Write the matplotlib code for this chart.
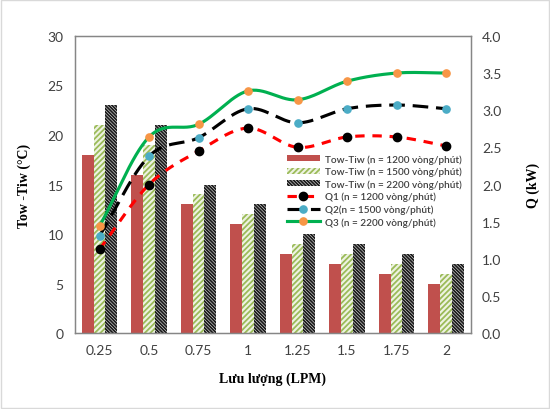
import numpy as np
import matplotlib
matplotlib.use("Agg")
import matplotlib.pyplot as plt
from matplotlib.lines import Line2D
from matplotlib.patches import Patch, Rectangle

categories = ["0.25", "0.5", "0.75", "1", "1.25", "1.5", "1.75", "2"]
dT_1200 = [18, 16, 13, 11, 8, 7, 6, 5]
dT_1500 = [21, 19, 14, 12, 9, 8, 7, 6]
dT_2200 = [23, 21, 15, 13, 10, 9, 8, 7]
Q1 = [1.13, 2.00, 2.45, 2.76, 2.50, 2.64, 2.64, 2.52]
Q2 = [1.31, 2.38, 2.63, 3.02, 2.83, 3.02, 3.07, 3.02]
Q3 = [1.44, 2.64, 2.81, 3.26, 3.14, 3.39, 3.50, 3.50]

bar_labels = ["Tow-Tiw (n = 1200 vòng/phút)", "Tow-Tiw (n = 1500 vòng/phút)",
              "Tow-Tiw (n = 2200 vòng/phút)"]
line_labels = ["Q1 (n = 1200 vòng/phút)", "Q2(n = 1500 vòng/phút)",
               "Q3 (n = 2200 vòng/phút)"]

plt.rcParams['hatch.linewidth'] = 1.3
tick_font = "Lato"
fig = plt.figure(figsize=(5.5, 4.1), dpi=100)
fig.patches.append(Rectangle((0.002, 0.002), 0.996, 0.996, transform=fig.transFigure,
                             fill=False, edgecolor="#d9d9d9", linewidth=1))
ax = fig.add_axes([0.136, 0.185, 0.72, 0.725])
x = np.arange(len(categories))
w = 0.24
green_hatch = "//////"
black_hatch = "\\" * 10
ax.bar(x - w, dT_1200, w, color="#c0504d", linewidth=0)
ax.bar(x, dT_1500, w, facecolor="#eef3e2", edgecolor="#9bbb59", hatch=green_hatch, linewidth=0)
ax.bar(x + w, dT_2200, w, facecolor="#f2f2f2", edgecolor="#1a1a1a", hatch=black_hatch, linewidth=0)
ax.set_ylim(0, 30)
ax.set_xlim(-0.5, len(categories) - 0.5)
ax.set_yticks(range(0, 31, 5))
ax.set_xticks(x)
ax.set_xticklabels(categories)
for s in ax.spines.values():
    s.set_color("#868686")
    s.set_linewidth(1)
ax.tick_params(length=0, labelsize=10, colors="#404040", pad=8)
for t in ax.get_xticklabels() + ax.get_yticklabels():
    t.set_fontfamily(tick_font)
ax.set_ylabel("Tow -Tiw (°C)", family="Liberation Serif", fontweight="bold", fontsize=10, labelpad=12)
ax.set_xlabel("Lưu lượng (LPM)", family="Liberation Serif", fontweight="bold", fontsize=10, labelpad=11)

ax2 = ax.twinx()
ax2.set_ylim(0, 4.0)
ax2.set_yticks(np.arange(0, 4.01, 0.5))
ax2.set_yticklabels([f"{v:.1f}" for v in np.arange(0, 4.01, 0.5)])
ax2.tick_params(length=0, labelsize=10, colors="#404040", pad=8)
for t in ax2.get_yticklabels():
    t.set_fontfamily(tick_font)
for s in ax2.spines.values():
    s.set_color("#868686")
ax2.set_ylabel("Q (kW)", family="Liberation Serif", fontweight="bold", fontsize=10, labelpad=18)

def smooth(xs, ys, n=30):
    xs = np.asarray(xs, float); ys = np.asarray(ys, float)
    px = np.concatenate([[2*xs[0]-xs[1]], xs, [2*xs[-1]-xs[-2]]])
    py = np.concatenate([[2*ys[0]-ys[1]], ys, [2*ys[-1]-ys[-2]]])
    ox, oy = [], []
    for i in range(1, len(px) - 2):
        t = np.linspace(0, 1, n, endpoint=False)
        for arr, out in ((px, ox), (py, oy)):
            p0, p1, p2, p3 = arr[i-1], arr[i], arr[i+1], arr[i+2]
            out.extend(0.5*((2*p1) + (-p0+p2)*t + (2*p0-5*p1+4*p2-p3)*t**2 + (-p0+3*p1-3*p2+p3)*t**3))
    ox.append(xs[-1]); oy.append(ys[-1])
    return np.array(ox), np.array(oy)

styles = [
    (Q1, "#ff0000", (0, (3, 2.5)), "black", 6),
    (Q2, "black", (0, (5, 2.5)), "#4bacc6", 5.2),
    (Q3, "#00b050", "-", "#f79646", 5.2),
]
line_handles = []
for (q, lc, ls, mc, ms), lab in zip(styles, line_labels):
    sx, sy = smooth(x, q)
    ax2.plot(sx, sy, color=lc, linestyle=ls, linewidth=2.25, zorder=3)
    ax2.plot(x, q, linestyle="none", marker="o", markersize=ms, color=mc, zorder=4)
    line_handles.append(Line2D([], [], color=lc, linestyle=ls, linewidth=2.25,
                               marker="o", markersize=ms, markerfacecolor=mc,
                               markeredgecolor=mc))

bar_handles = [
    Patch(facecolor="#c0504d", linewidth=0),
    Patch(facecolor="#eef3e2", edgecolor="#9bbb59", hatch=green_hatch, linewidth=0),
    Patch(facecolor="#f2f2f2", edgecolor="#1a1a1a", hatch=black_hatch, linewidth=0),
]
leg = ax2.legend(bar_handles + line_handles, bar_labels + line_labels,
                 loc="upper left", bbox_to_anchor=(0.525, 0.615), frameon=False,
                 handlelength=3.3, handleheight=0.55, labelspacing=0.3,
                 borderaxespad=0, handletextpad=0.5,
                 prop={"family": tick_font, "size": 7.2, "weight": "semibold"})
for t in leg.get_texts():
    t.set_color("#404040")

fig.savefig("out.png", dpi=100)
